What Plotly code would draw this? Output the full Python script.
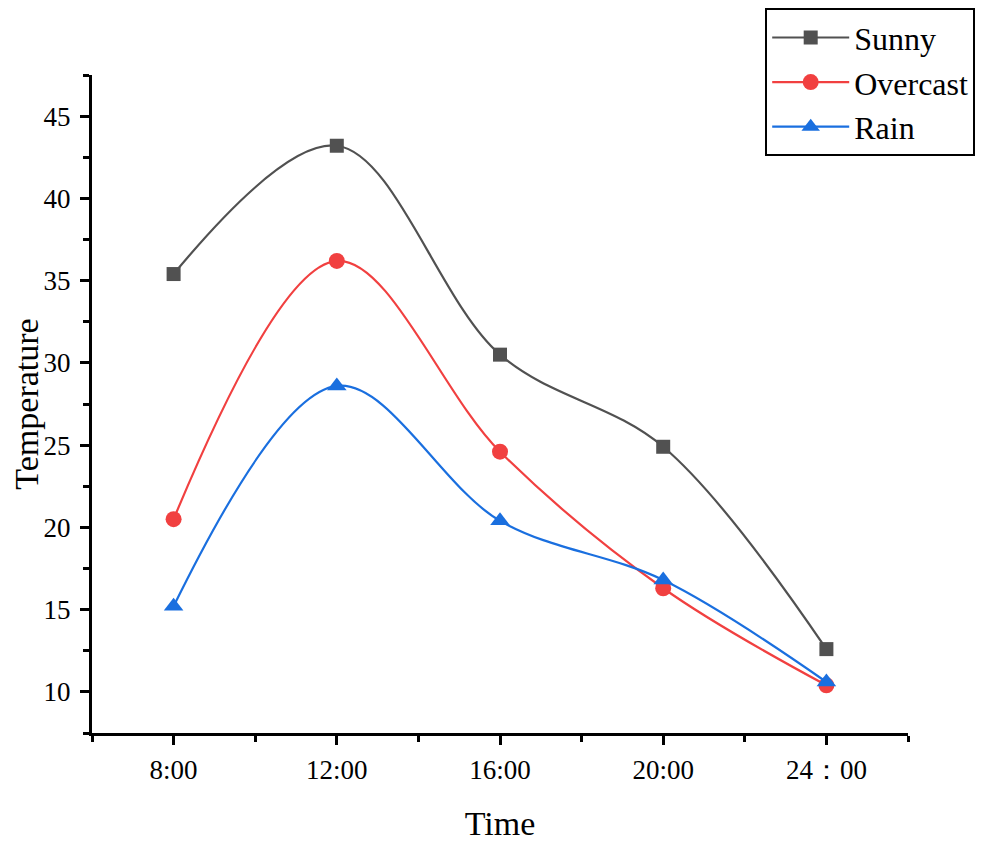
import plotly.graph_objects as go

# time slots (categorical, drawn at positions 0..4)
times = ["8:00", "12:00", "16:00", "20:00", "24：00"]
x_pos = [0, 1, 2, 3, 4]

sunny = [35.4, 43.2, 30.5, 24.9, 12.6]
overcast = [20.5, 36.2, 24.6, 16.3, 10.4]
rain = [15.2, 28.6, 20.4, 16.8, 10.6]

y_ticks = [10, 15, 20, 25, 30, 35, 40, 45]

font = "Liberation Serif, Times New Roman, serif"

fig = go.Figure()
series = [
    ("Sunny", sunny, "#515151", "square", 14),
    ("Overcast", overcast, "#F14040", "circle", 16),
    ("Rain", rain, "#1A6FDF", "triangle-up", 17),
]
for name, vals, col, sym, sz in series:
    fig.add_trace(go.Scatter(
        x=x_pos, y=vals, name=name, mode="lines+markers",
        line=dict(color=col, width=2.2, shape="spline", smoothing=1.0),
        marker=dict(color=col, symbol=sym, size=sz, line=dict(width=0)),
    ))

axis_common = dict(
    showline=True, linecolor="black", linewidth=3,
    ticks="outside", ticklen=9, tickwidth=3, tickcolor="black",
    showgrid=False, zeroline=False, automargin=False,
    tickfont=dict(family=font, size=27, color="black"),
)

# the page body adds an 8px offset, so the figure is 8px smaller each way
fig.update_layout(
    width=975, height=834,
    paper_bgcolor="white", plot_bgcolor="white",
    margin=dict(l=84, r=75, t=67, b=109, autoexpand=False),
    font=dict(family=font, color="black"),
    xaxis=dict(
        range=[-0.5, 4.5], tickmode="array", tickvals=x_pos, ticktext=times,
        title=dict(text="Time", font=dict(family=font, size=34), standoff=28),
        minor=dict(tickmode="array", tickvals=[-0.5, 0.5, 1.5, 2.5, 3.5, 4.5],
                   ticks="outside", ticklen=6, tickwidth=3, tickcolor="black"),
        ticklabelstandoff=2,
        **axis_common,
    ),
    yaxis=dict(
        range=[7.5, 47.5], tickmode="array", tickvals=y_ticks,
        title=dict(text="Temperature", font=dict(family=font, size=34), standoff=8),
        minor=dict(tickmode="array",
                   tickvals=[7.5, 12.5, 17.5, 22.5, 27.5, 32.5, 37.5, 42.5, 47.5],
                   ticks="outside", ticklen=6, tickwidth=3, tickcolor="black"),
        ticklabelstandoff=4,
        **axis_common,
    ),
    legend=dict(
        x=0.825, y=1.1015, xanchor="left", yanchor="top",
        bordercolor="black", borderwidth=2, bgcolor="white",
        font=dict(family=font, size=32, color="black"),
        itemwidth=77, tracegroupgap=0,
    ),
)

fig.write_html("out.html")
